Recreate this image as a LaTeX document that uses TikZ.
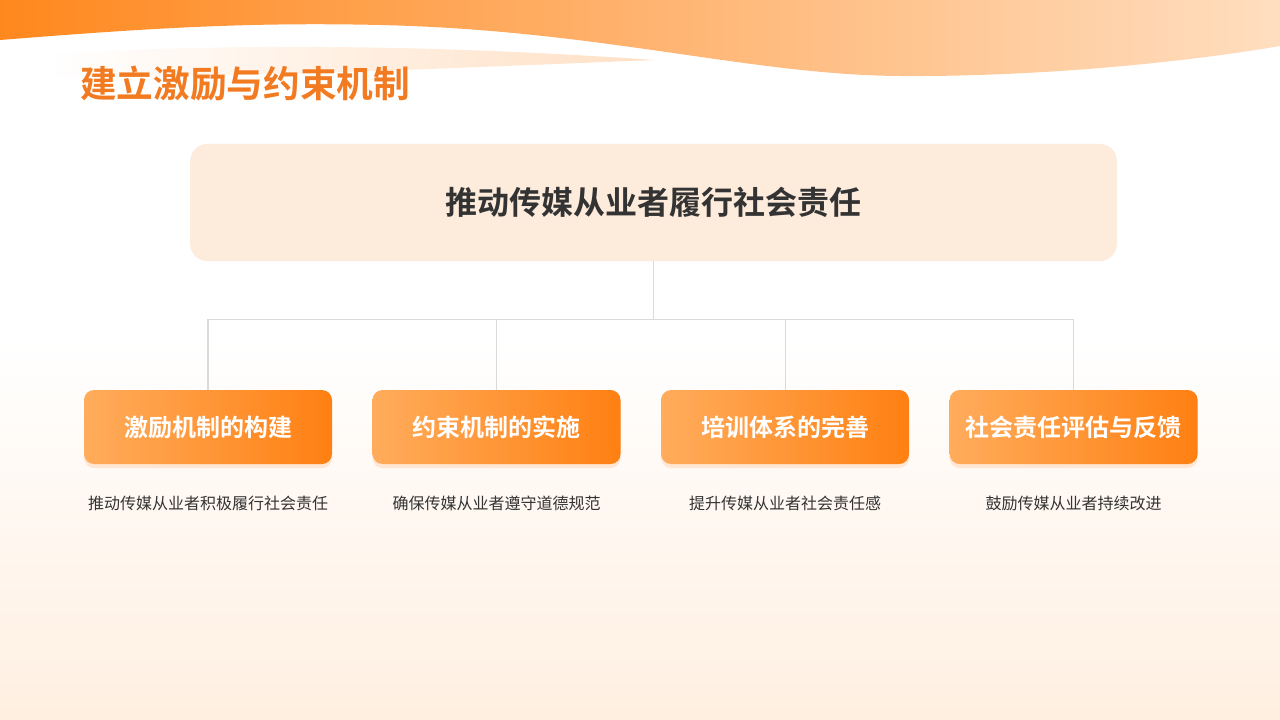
\documentclass[tikz,border=0pt]{standalone}
\usepackage{fontspec}
\setmainfont{Noto Sans CJK SC}[BoldFont={Noto Sans CJK SC Bold}]
\usepackage{tikz}
\usetikzlibrary{positioning,shadows,calc}
\definecolor{colorband}   {RGB}{255,136, 30}
\definecolor{colorbandend}{RGB}{255,222,192}
\definecolor{colortitle}  {RGB}{242,123, 34}
\definecolor{colorgoal}   {RGB}{253,235,219}
\definecolor{colorboxa}   {RGB}{255,172, 92}
\definecolor{colorboxb}   {RGB}{255,128, 18}
\definecolor{colortext}   {RGB}{ 51, 51, 51}
\definecolor{colorline}   {RGB}{218,218,218}
\definecolor{colorfloor}  {RGB}{255,239,225}

\begin{document}
\begin{tikzpicture}[
    x=0.75pt, y=-0.75pt,
    node distance = 30pt,
    goal/.style={font={\fontsize{24pt}{28pt}\selectfont\bfseries},text=colortext,fill=colorgoal,
        rounded corners=13pt,minimum width=695pt,minimum height=88pt,align=center},
    measure/.style={font={\fontsize{18pt}{22pt}\selectfont\bfseries},text=white,
        left color=colorboxa,right color=colorboxb,rounded corners=7.5pt,
        minimum width=186pt,minimum height=55.5pt,align=center,
        drop shadow={shadow xshift=0pt,shadow yshift=-3pt,opacity=0.15,fill=colorboxb}},
    effect/.style={font={\fontsize{12pt}{14pt}\selectfont},text=colortext,align=center},
    link/.style={draw=colorline,line width=0.8pt},
]

    % background
    \fill[white] (0,0) rectangle (1280,720);
    \shade[top color=white,bottom color=colorfloor] (0,340) rectangle (1280,720);
    \useasboundingbox (0,0) rectangle (1280,720);

    % header wave
    \shade[left color=colorband,right color=colorbandend]
        (0,0) -- (1280,0) -- (1280,46)
        .. controls (1200,60) and (1050,77) .. (900,76)
        .. controls (750,75) and (600,30) .. (380,25)
        .. controls (250,22) and (150,28) .. (0,40) -- cycle;
    \shade[left color=white,right color=colorbandend!80!colorband,opacity=0.6]
        (50,54) .. controls (250,42) and (450,46) .. (655,60)
        .. controls (450,68) and (250,78) .. (50,76) -- cycle;

    \node[anchor=west,text=colortitle,inner sep=0pt,
        font={\fontsize{27.5pt}{32pt}\selectfont\bfseries}] (title) at (80,84) {建立激励与约束机制};

    \node[goal] (goal) at (653.5,202.5) {推动传媒从业者履行社会责任};

    \node[measure]                  (reward)   at (208,427) {激励机制的构建};
    \node[measure,right=of reward]  (restrain) {约束机制的实施};
    \node[measure,right=of restrain](training) {培训体系的完善};
    \node[measure,right=of training](feedback) {社会责任评估与反馈};

    \node[effect,below=20pt of reward]   (rewardtxt)   {推动传媒从业者积极履行社会责任};
    \node[effect,below=20pt of restrain] (restraintxt) {确保传媒从业者遵守道德规范};
    \node[effect,below=20pt of training] (trainingtxt) {提升传媒从业者社会责任感};
    \node[effect,below=20pt of feedback] (feedbacktxt) {鼓励传媒从业者持续改进};

    \coordinate (hub) at ($(goal.south)+(0,58)$);
    \draw[link](goal) -- (hub);
    \draw[link](hub) -| (reward);
    \draw[link](hub) -| (restrain);
    \draw[link](hub) -| (training);
    \draw[link](hub) -| (feedback);

\end{tikzpicture}
\end{document}
